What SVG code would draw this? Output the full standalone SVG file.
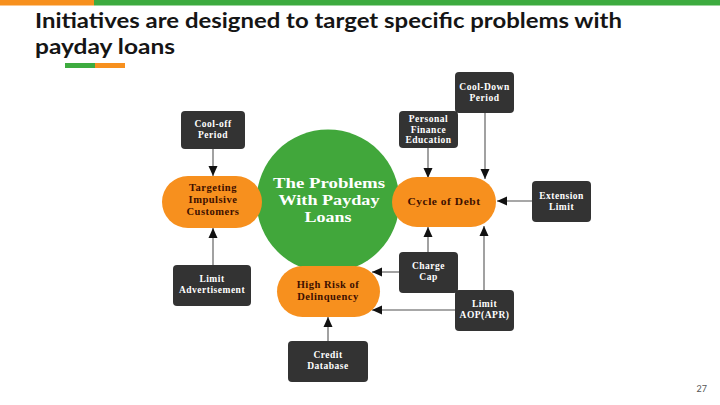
<svg xmlns="http://www.w3.org/2000/svg" width="720" height="405" viewBox="0 0 720 405">
<defs>
<style>
.box{fill:#333333;}
.pill{fill:#f7901e;}
.bt{font-family:"Liberation Serif",serif;font-size:9.5px;font-weight:bold;fill:#ffffff;text-anchor:middle;letter-spacing:0.5px;}
.pt{font-family:"Liberation Serif",serif;font-size:10.5px;font-weight:bold;fill:#3d0f00;text-anchor:middle;letter-spacing:0.5px;}
.ct{font-family:"Liberation Serif",serif;font-size:14.5px;font-weight:bold;fill:#ffffff;text-anchor:middle;}
.title{font-family:Lato,"Liberation Sans",sans-serif;font-size:20px;font-weight:bold;fill:#151515;}
.conn line{stroke:#8a8a8a;stroke-width:1.6;marker-end:url(#ah);}
</style>
<marker id="ah" markerUnits="userSpaceOnUse" markerWidth="10" markerHeight="10" viewBox="0 0 10 10" refX="10" refY="5" orient="auto">
<path d="M0,0.5 L10,5 L0,9.5 Z" fill="#111111"/>
</marker>
</defs>
<rect width="720" height="405" fill="#ffffff"/>
<rect x="0" y="0" width="94" height="5.5" fill="#f7901e"/>
<rect x="94" y="0" width="626" height="5.5" fill="#3dab3f"/>
<text class="title" x="35" y="28" textLength="587" lengthAdjust="spacingAndGlyphs">Initiatives are designed to target specific problems with</text>
<text class="title" x="35" y="54" textLength="140" lengthAdjust="spacingAndGlyphs">payday loans</text>
<rect x="65" y="63" width="30" height="5" fill="#3dab3f"/>
<rect x="95" y="63" width="30" height="5" fill="#f7901e"/>

<g id="connectors" class="conn">
<line x1="213" y1="149" x2="213" y2="176"/>
<line x1="213" y1="265" x2="213" y2="228"/>
<line x1="428" y1="148" x2="428" y2="178"/>
<line x1="485" y1="113" x2="485" y2="179"/>
<line x1="532" y1="201" x2="497" y2="201"/>
<line x1="428" y1="252" x2="428" y2="227"/>
<line x1="484" y1="290" x2="484" y2="226"/>
<line x1="399" y1="272" x2="372" y2="272"/>
<line x1="455" y1="310" x2="372" y2="310"/>
<line x1="328" y1="341" x2="328" y2="317"/>
</g>

<g id="problems">
<circle cx="328" cy="201" r="71.5" fill="#41a73b"/>
<text class="ct" x="329" y="188" textLength="112" lengthAdjust="spacingAndGlyphs">The Problems</text>
<text class="ct" x="329" y="205" textLength="101" lengthAdjust="spacingAndGlyphs">With Payday</text>
<text class="ct" x="328" y="222" textLength="47" lengthAdjust="spacingAndGlyphs">Loans</text>
</g>

<g id="targeting">
<rect class="pill" x="162" y="176" width="100" height="52" rx="26"/>
<text class="pt" x="213" y="191">Targeting</text>
<text class="pt" x="213" y="203">Impulsive</text>
<text class="pt" x="213" y="215">Customers</text>
</g>

<g id="cycle">
<rect class="pill" x="392" y="177" width="104" height="50" rx="25"/>
<text class="pt" x="444" y="205" textLength="73" lengthAdjust="spacingAndGlyphs">Cycle of Debt</text>
</g>

<g id="highrisk">
<rect class="pill" x="277" y="266" width="103" height="51" rx="25.5"/>
<text class="pt" x="328" y="288">High Risk of</text>
<text class="pt" x="328" y="300">Delinquency</text>
</g>

<g id="cooloff">
<rect class="box" x="181" y="111" width="64" height="38" rx="4"/>
<text class="bt" x="213" y="127">Cool-off</text>
<text class="bt" x="213" y="138">Period</text>
</g>

<g id="cooldown">
<rect class="box" x="455" y="72" width="59" height="41" rx="4"/>
<text class="bt" x="484.5" y="90">Cool-Down</text>
<text class="bt" x="484.5" y="101">Period</text>
</g>

<g id="education">
<rect class="box" x="399" y="111" width="59" height="37" rx="4"/>
<text class="bt" x="428.5" y="122">Personal</text>
<text class="bt" x="428.5" y="132.5">Finance</text>
<text class="bt" x="428.5" y="143">Education</text>
</g>

<g id="extension">
<rect class="box" x="532" y="181" width="59" height="41" rx="4"/>
<text class="bt" x="561.5" y="199">Extension</text>
<text class="bt" x="561.5" y="210">Limit</text>
</g>

<g id="advertisement">
<rect class="box" x="173" y="265" width="78" height="41" rx="4"/>
<text class="bt" x="212" y="282">Limit</text>
<text class="bt" x="212" y="293">Advertisement</text>
</g>

<g id="chargecap">
<rect class="box" x="399" y="252" width="59" height="41" rx="4"/>
<text class="bt" x="428.5" y="269">Charge</text>
<text class="bt" x="428.5" y="280">Cap</text>
</g>

<g id="aop">
<rect class="box" x="455" y="290" width="59" height="41" rx="4"/>
<text class="bt" x="484.5" y="307">Limit</text>
<text class="bt" x="484.5" y="318">AOP(APR)</text>
</g>

<g id="credit">
<rect class="box" x="288" y="341" width="80" height="41" rx="4"/>
<text class="bt" x="328" y="358">Credit</text>
<text class="bt" x="328" y="369">Database</text>
</g>

<text x="707" y="392" font-family="Lato,'Liberation Sans',sans-serif" font-size="9" fill="#555555" text-anchor="end">27</text>
</svg>
